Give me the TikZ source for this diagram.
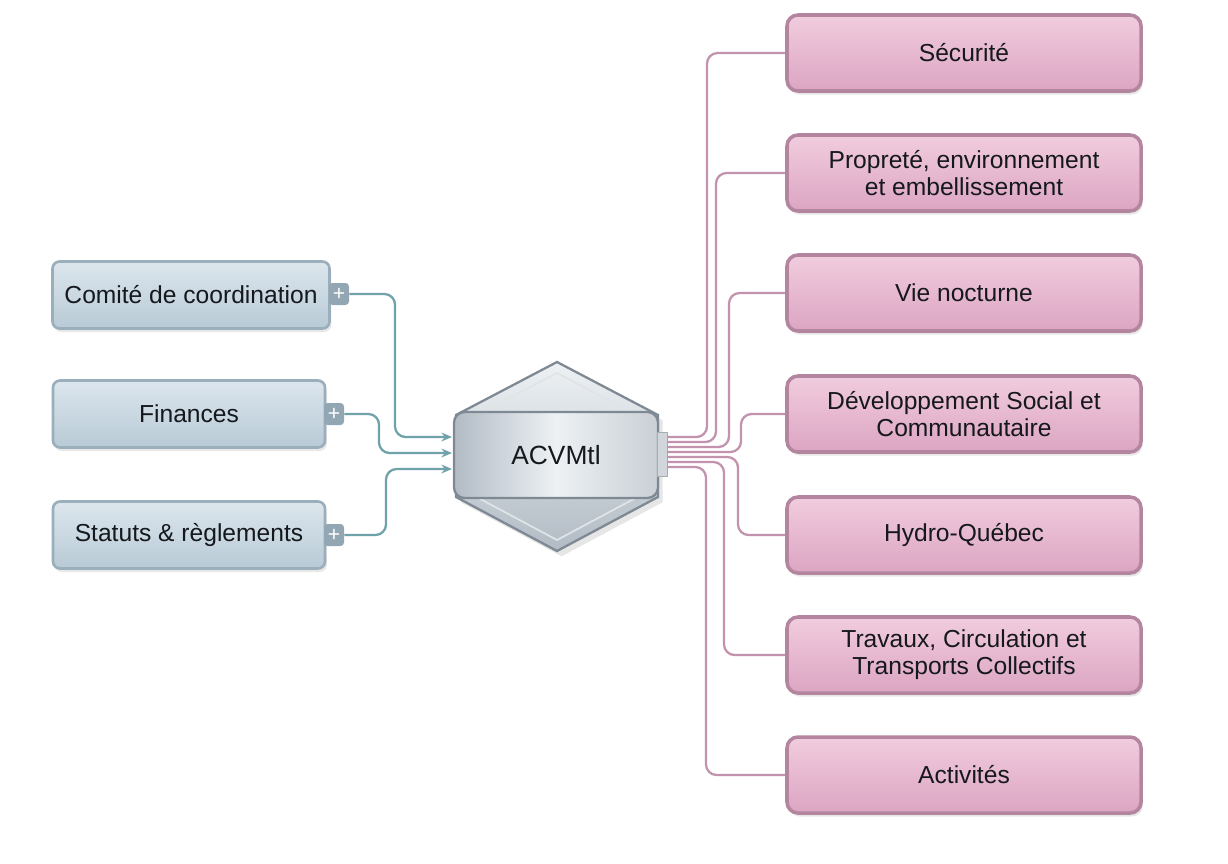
\documentclass[tikz,border=0pt]{standalone}
\usepackage{fontspec}
\setmainfont{Liberation Sans}
\usetikzlibrary{arrows.meta,shadows}
\definecolor{bluefillA}{HTML}{DCE6ED}
\definecolor{bluefillB}{HTML}{B8CAD6}
\definecolor{blueedge}{HTML}{9BAEBC}
\definecolor{tabgray}{HTML}{93A6B4}
\definecolor{tealwire}{HTML}{6FA3A9}
\definecolor{pinkfillA}{HTML}{F1CCDE}
\definecolor{pinkfillB}{HTML}{DCA5C2}
\definecolor{pinkedge}{HTML}{B4859E}
\definecolor{pinkwire}{HTML}{C393AD}
\definecolor{silverA}{HTML}{EDF1F4}
\definecolor{silverB}{HTML}{B2BBC4}
\definecolor{silveredge}{HTML}{7E8994}
\definecolor{inkc}{HTML}{15181C}
\begin{document}
\begin{tikzpicture}[x=0.2mm,y=-0.2mm,
	txt/.style={text=inkc,font=\fontsize{14}{15.5}\selectfont,align=center},
	leftbox/.style={txt,draw=blueedge,line width=1.5pt,rounded corners=4pt,top color=bluefillA,bottom color=bluefillB,minimum height=13.4mm,drop shadow={opacity=0.18,shadow xshift=1pt,shadow yshift=-2pt}},
	tab/.style={fill=tabgray,text=white,rounded corners=2pt,minimum width=4mm,minimum height=4.4mm,inner sep=0pt,font=\fontsize{12}{12}\selectfont},
	rightbox/.style={txt,draw=pinkedge,line width=2pt,rounded corners=2.2mm,top color=pinkfillA,bottom color=pinkfillB,minimum width=70.8mm,minimum height=15.2mm,drop shadow={opacity=0.2,shadow xshift=1pt,shadow yshift=-2pt}},
	tealline/.style={tealwire,line width=1.3pt,rounded corners=6pt},
	pinkline/.style={pinkwire,line width=1.3pt,rounded corners=6pt}]
		\useasboundingbox (0,0) rectangle (1228,864);

		\node[leftbox,minimum width=55.4mm] (c1) at (191,295) {Comité de coordination};
		\node[leftbox,minimum width=54.4mm] (c2) at (189,414) {Finances};
		\node[leftbox,minimum width=54.4mm] (c3) at (189,535) {Statuts \& règlements};
		\node[tab] (t1) at (339,294) {+};
		\node[tab] (t2) at (334,414) {+};
		\node[tab] (t3) at (334,535) {+};

		\filldraw[draw=silveredge,line width=1.3pt,top color=silverA,bottom color=silverB,drop shadow={opacity=0.2,shadow yshift=-3pt}] (557,362) -- (658,415) -- (658,497) -- (557,551) -- (456,497) -- (456,415) -- cycle;
		\draw[white!60!silverB,line width=1pt] (557,373) -- (645,419) -- (645,493) -- (557,540) -- (469,493) -- (469,419) -- cycle;
		\node[txt,font=\fontsize{15}{15}\selectfont,draw=silveredge,line width=1.3pt,rounded corners=6pt,left color=silverB,right color=silverB!70!white,middle color=silverA,minimum width=40.8mm,minimum height=17.2mm] (hub) at (556,455) {ACVMtl};
		\node[fill=silverB!60!white,draw=silveredge!70!white,line width=0.5pt,minimum width=2mm,minimum height=8.8mm,inner sep=0pt] (port) at (662,454) {};

		\coordinate (a1) at (452,437);
		\coordinate (a2) at (452,453);
		\coordinate (a3) at (452,469);
		\draw[tealline,-{Stealth[length=6pt,width=5pt]}] (t1.east) -| (395,437) -- (a1);
		\draw[tealline,-{Stealth[length=6pt,width=5pt]}] (t2.east) -| (379,453) -- (a2);
		\draw[tealline,-{Stealth[length=6pt,width=5pt]}] (t3.east) -| (386,469) -- (a3);

		\foreach \i/\y/\t in {1/53/{Sécurité},2/173/{Propreté, environnement\\et embellissement},3/293/{Vie nocturne},4/414/{Développement Social et\\Communautaire},5/535/{Hydro-Québec},6/655/{Travaux, Circulation et\\Transports Collectifs},7/775/{Activités}}
			\node[rightbox] (r\i) at (964,\y) {\t};

		\foreach \i/\x/\y in {1/707/53,2/716/173,3/729/293,4/741/414,5/738/535,6/724/655,7/706/775} {
			\coordinate (p\i) at (667,{432+5*\i});
			\draw[pinkline] (p\i) -| (\x,\y) -- (r\i.west);
		}
	\end{tikzpicture}
\end{document}
